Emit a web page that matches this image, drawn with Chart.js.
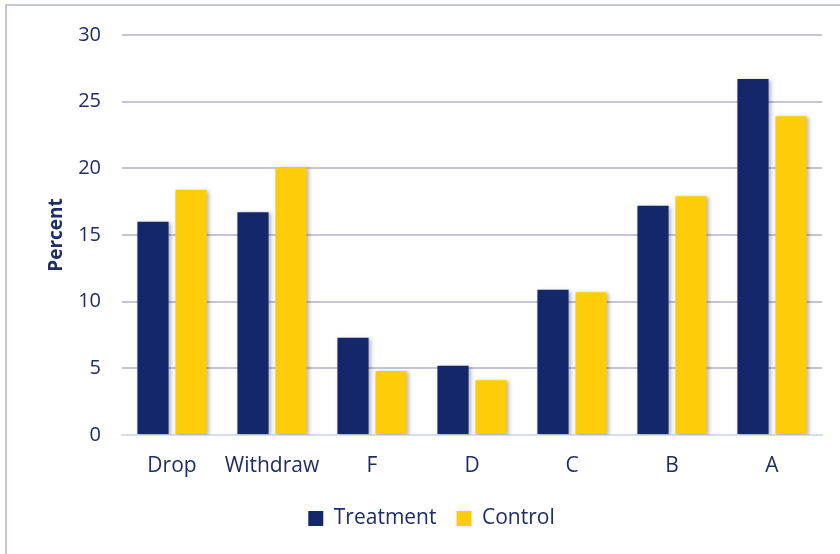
<!DOCTYPE html>
<html>
<head>
<meta charset="utf-8">
<script src="https://cdn.jsdelivr.net/npm/chart.js@4/dist/chart.umd.min.js"></script>
<style>
  html, body { margin: 0; padding: 0; background: #fff; }
  #wrap { position: relative; width: 840px; height: 554px; overflow: hidden; }
  #frame { position: absolute; left: 5px; top: 4px; width: 900px; height: 700px;
           border-left: 2px solid #c6c7d4; border-top: 2px solid #c6c7d4; box-sizing: border-box; }
  canvas { position: absolute; left: 0; top: 0; }
</style>
</head>
<body>
<div id="wrap">
  <div id="frame"></div>
  <canvas id="chart" width="840" height="554"></canvas>
</div>
<script>
const categories = ['Drop', 'Withdraw', 'F', 'D', 'C', 'B', 'A'];
const treatment = [16.0, 16.7, 7.3, 5.2, 10.9, 17.2, 26.7];
const control = [18.4, 20.1, 4.8, 4.1, 10.7, 17.9, 23.9];
const seriesNames = ['Treatment', 'Control'];

const NAVY = '#13276a';
const GOLD = '#ffcc0a';
const TEXT = '#1f2c66';
const FONT = "'Open Sans', sans-serif";

// soft drop shadow under the bars
const barShadow = {
  id: 'barShadow',
  beforeDatasetsDraw(chart) {
    const c = chart.ctx;
    c.save();
    c.shadowColor = 'rgba(0,0,0,0.28)';
    c.shadowBlur = 4;
    c.shadowOffsetX = 2;
    c.shadowOffsetY = 1;
  },
  afterDatasetsDraw(chart) { chart.ctx.restore(); }
};

new Chart(document.getElementById('chart'), {
  type: 'bar',
  data: {
    labels: categories,
    datasets: [
      { label: seriesNames[0], data: treatment, backgroundColor: NAVY },
      { label: seriesNames[1], data: control, backgroundColor: GOLD }
    ]
  },
  options: {
    responsive: false,
    animation: false,
    devicePixelRatio: 1,
    categoryPercentage: 0.76,
    barPercentage: 0.82,
    layout: { padding: { left: 41, right: 18, top: 35, bottom: 15 } },
    plugins: {
      legend: {
        position: 'bottom',
        labels: {
          color: TEXT, font: { family: FONT, size: 21 },
          boxWidth: 15, boxHeight: 15, padding: 20
        }
      },
      tooltip: { enabled: false }
    },
    scales: {
      x: {
        grid: { display: false },
        border: { display: true, color: '#d3def0', width: 2 },
        ticks: {
          color: TEXT, font: { family: FONT, size: 21 }, padding: 10,
          maxRotation: 0, minRotation: 0, autoSkip: false
        },
        afterFit(s) { s.height = 53; }
      },
      y: {
        min: 0, max: 30,
        ticks: { stepSize: 5, color: TEXT, font: { family: FONT, size: 20 }, padding: 21 },
        grid: {
          drawTicks: false, lineWidth: 2,
          color: (ctx) => ctx.tick && ctx.tick.value === 0 ? 'rgba(0,0,0,0)' : '#c4c5d5'
        },
        border: { display: false },
        title: {
          display: true, text: 'Percent', color: TEXT,
          font: { family: FONT, size: 19, weight: 'bold' }, padding: 4
        },
        afterFit(s) { s.width = 81; }
      }
    }
  },
  plugins: [barShadow]
});
</script>
</body>
</html>
